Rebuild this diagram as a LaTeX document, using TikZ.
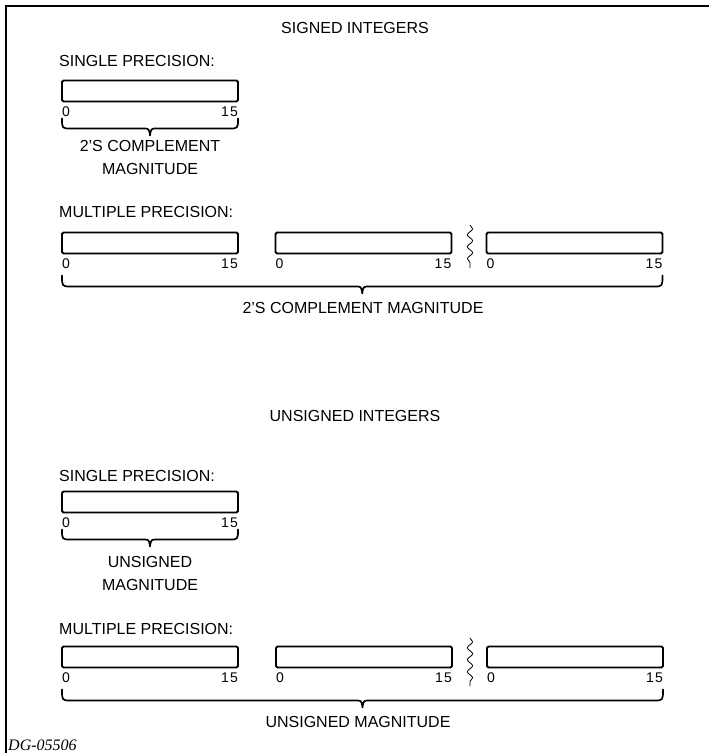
\documentclass[tikz,border=0pt]{standalone}
\usepackage{fontspec}
\setmainfont{Liberation Sans}
\newfontfamily\tagfont{Liberation Serif}
\usetikzlibrary{decorations.pathmorphing,calc}

\tikzset{
  lbl/.style={font=\fontsize{16}{23}\selectfont, inner sep=0pt, align=center},
  ttl/.style={font=\fontsize{16}{18}\selectfont, inner sep=0pt},
  bitnum/.style={font=\fontsize{14}{15}\selectfont, inner sep=0pt},
  bitbox/.style={draw, line width=1.8pt, rounded corners=1.5pt, minimum width=176pt,
                 minimum height=21pt, inner sep=0pt, outer sep=0pt},
  % curly brace opening upwards: #1 = drop to the long stroke, tip is 7pt below it
  curly/.style={draw, line width=1.7pt, line cap=round, line join=round, to path={
    let \p1=(\tikztostart), \p2=(\tikztotarget), \n1={(\x1+\x2)/2} in
    .. controls (\x1,\y1-#1) .. (\x1+9pt,\y1-#1)
    -- (\n1-7pt,\y1-#1) .. controls (\n1-1pt,\y1-#1) .. (\n1,\y1-#1-7pt)
    .. controls (\n1+1pt,\y1-#1) .. (\n1+7pt,\y1-#1)
    -- (\x2-9pt,\y2-#1) .. controls (\x2,\y2-#1) .. (\tikztotarget)}},
  wav/.style={draw, line width=0.8pt, decorate,
              decoration={snake, segment length=12pt, amplitude=2.6pt}},
  frm/.style={line width=1.4pt}
}

\newcommand{\fifteen}{1\kern1.2pt5}

\begin{document}
\begin{tikzpicture}[x=1pt, y=-1pt]
\useasboundingbox (0,0) rectangle (709,753);

% page frame (top and left rules only)
\coordinate (fa) at (6,753);
\coordinate (fb) at (6,6);
\coordinate (fc) at (709,6);
\draw[frm] (fa) -- (fb) -- (fc);

% ---------------- signed integers ----------------
\node[ttl] (stitle) at (355,28) {SIGNED INTEGERS};

\node[ttl, anchor=west] (ssp) at (59,61) {SINGLE PRECISION:};
\node[bitbox] (sb) at (150,91) {};
\node[bitnum, anchor=north west] (sb0) at ([yshift=-5pt]sb.south west) {0};
\node[bitnum, anchor=north east] (sb15) at ([yshift=-5pt]sb.south east) {\fifteen};
\coordinate (sbl) at ([yshift=-17pt]sb.south west);
\coordinate (sbr) at ([yshift=-17pt]sb.south east);
\draw[curly=10pt] (sbl) to (sbr);
\node[lbl] (sbtxt) at (150,157) {2'S COMPLEMENT\\MAGNITUDE};

\node[ttl, anchor=west] (smp) at (59,212) {MULTIPLE PRECISION:};
\node[bitbox] (sm1) at (150,243) {};
\node[bitbox] (sm2) at (363.5,243) {};
\node[bitbox] (sm3) at (574.5,243) {};
\foreach \b in {sm1,sm2,sm3}{
  \node[bitnum, anchor=north west] (\b lo) at ([yshift=-5pt]\b.south west) {0};
  \node[bitnum, anchor=north east] (\b hi) at ([yshift=-5pt]\b.south east) {\fifteen};
}
\coordinate (swt) at (470,225);
\coordinate (swb) at (470,268);
\draw[wav] (swt) -- (swb);
\coordinate (sml) at ([yshift=-22pt]sm1.south west);
\coordinate (smr) at ([yshift=-22pt]sm3.south east);
\draw[curly=11pt] (sml) to (smr);
\node[lbl] (smtxt) at (363,308) {2'S COMPLEMENT MAGNITUDE};

% ---------------- unsigned integers ----------------
\node[ttl] (utitle) at (355,416) {UNSIGNED INTEGERS};

\node[ttl, anchor=west] (usp) at (59,476) {SINGLE PRECISION:};
\node[bitbox] (ub) at (150,502) {};
\node[bitnum, anchor=north west] (ub0) at ([yshift=-5pt]ub.south west) {0};
\node[bitnum, anchor=north east] (ub15) at ([yshift=-5pt]ub.south east) {\fifteen};
\coordinate (ubl) at ([yshift=-17pt]ub.south west);
\coordinate (ubr) at ([yshift=-17pt]ub.south east);
\draw[curly=10pt] (ubl) to (ubr);
\node[lbl] (ubtxt) at (150,573) {UNSIGNED\\MAGNITUDE};

\node[ttl, anchor=west] (ump) at (59,629) {MULTIPLE PRECISION:};
\node[bitbox] (um1) at (150,657) {};
\node[bitbox] (um2) at (364,657) {};
\node[bitbox] (um3) at (575,657) {};
\foreach \b in {um1,um2,um3}{
  \node[bitnum, anchor=north west] (\b lo) at ([yshift=-5pt]\b.south west) {0};
  \node[bitnum, anchor=north east] (\b hi) at ([yshift=-5pt]\b.south east) {\fifteen};
}
\coordinate (uwt) at (470,638);
\coordinate (uwb) at (470,686);
\draw[wav] (uwt) -- (uwb);
\coordinate (uml) at ([yshift=-22pt]um1.south west);
\coordinate (umr) at ([yshift=-22pt]um3.south east);
\draw[curly=11pt] (uml) to (umr);
\node[lbl] (umtxt) at (358,722) {UNSIGNED MAGNITUDE};

% drawing number
\node[anchor=west, inner sep=0pt, font=\tagfont\itshape\fontsize{16}{18}\selectfont] (dg) at (8,745) {DG-05506};
\end{tikzpicture}
\end{document}
